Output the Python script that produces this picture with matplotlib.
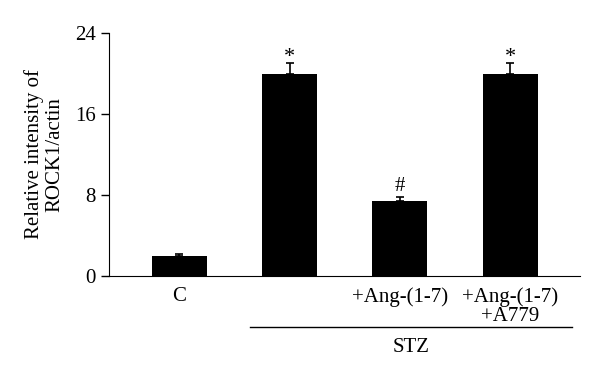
import numpy as np
import matplotlib
matplotlib.use("Agg")
from matplotlib import pyplot as plt

plt.rcParams['font.family'] = ['Liberation Serif', 'DejaVu Serif']

groups = ['C', '', '+Ang-(1-7)', '+Ang-(1-7)\n+A779']
means = [2.0, 20.0, 7.4, 20.0]
errs = [0.2, 1.0, 0.4, 1.0]
marks = ['', '*', '#', '*']
yticks = [0, 8, 16, 24]

fs = 15
fig = plt.figure(figsize=(6, 3.8), dpi=100)
ax = fig.add_axes([0.182, 0.274, 0.785, 0.639])

x = np.arange(len(means))
ax.bar(x, means, width=0.5, color='black')
ax.errorbar(x, means, yerr=[np.zeros(len(errs)), errs], fmt='none',
            ecolor='black', elinewidth=1.2, capsize=3, capthick=1.2)

# glyph offsets so the marks sit just above the caps
offs = {'*': 0.1, '#': 0.6}
for xi, m, e, s in zip(x, means, errs, marks):
    if s:
        ax.text(xi, m + e + offs[s], s, ha='center', va='baseline',
                fontsize=fs + 1 if s == '*' else fs)

ax.set_xlim(-0.636, 3.636)
ax.set_ylim(0, 24)
ax.set_yticks(yticks)
ax.tick_params(axis='y', labelsize=fs, direction='out', length=6, width=1)
ax.tick_params(axis='x', length=0, labelsize=fs, pad=8)
ax.set_xticks(x)
ax.set_xticklabels(groups, linespacing=1.05, va='top')

ax.spines['top'].set_visible(False)
ax.spines['right'].set_visible(False)
ax.set_ylabel('Relative intensity of\nROCK1/actin', fontsize=fs, labelpad=8,
              linespacing=1.05)

# STZ bracket under groups 2-4
ax.plot([0.64, 3.56], [-5.1, -5.1], color='black', lw=1, clip_on=False)
ax.text(2.1, -7.1, 'STZ', ha='center', va='center', fontsize=fs)

fig.savefig('out.png', dpi=100)
